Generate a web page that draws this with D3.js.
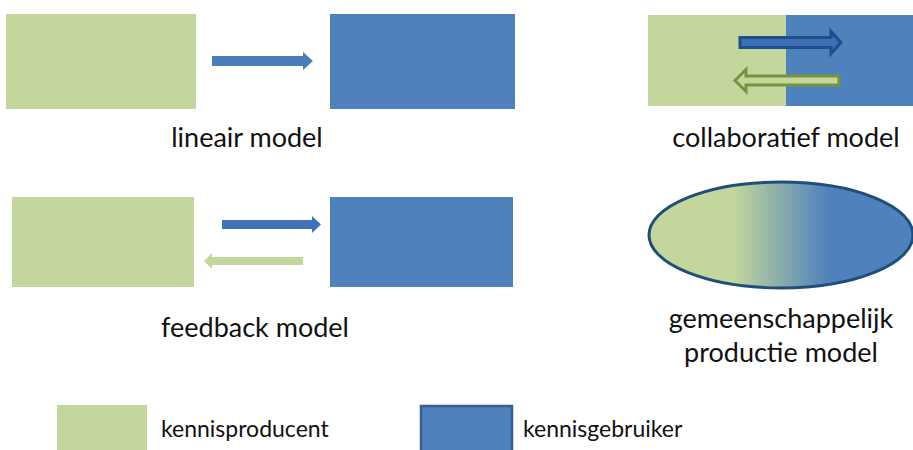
<!DOCTYPE html>
<html><head><meta charset="utf-8">
<script src="https://cdn.jsdelivr.net/npm/d3@7"></script>
<style>body{margin:0;background:#fff}svg{display:block}text{font-family:Lato,"Open Sans",sans-serif;fill:#111}</style>
</head><body>
<svg id="c" width="913" height="450"></svg>
<script>
// diagram content
const models = ["lineair model", "collaboratief model", "feedback model", "gemeenschappelijk productie model"];
const modelLabelLines = [["lineair model"], ["collaboratief model"], ["feedback model"], ["gemeenschappelijk", "productie model"]];
const roles = ["kennisproducent", "kennisgebruiker"];
const roleColors = ["#c3d69b", "#4f81bd"];

const svg = d3.select("#c");
const defs = svg.append("defs");
const grad = defs.append("linearGradient").attr("id","g").attr("x1","0").attr("x2","1").attr("y1","0").attr("y2","0");
[[0,"#c3d69b"],[0.32,"#c3d69b"],[0.68,"#4f81bd"],[1,"#4f81bd"]].forEach(s=>grad.append("stop").attr("offset",s[0]).attr("stop-color",s[1]));

const color = d3.scaleOrdinal().domain(roles).range(roleColors);

// arrow path helper: from x0 to x1 (tip), center y, shaft half height h, head half height H, head length L
function arrow(x0, x1, y, h, H, L){
  const d = x1 > x0 ? 1 : -1;
  const xb = x1 - d*L;
  return `M${x0},${y-h}L${xb},${y-h}L${xb},${y-H}L${x1},${y}L${xb},${y+H}L${xb},${y+h}L${x0},${y+h}Z`;
}

// lineair model
svg.append("rect").attr("x",6).attr("y",14).attr("width",190).attr("height",95).attr("fill",color(roles[0]));
svg.append("rect").attr("x",330).attr("y",14).attr("width",185).attr("height",95).attr("fill",color(roles[1]));
svg.append("path").attr("d",arrow(212,313,61,5,9,10)).attr("fill","#4a7ebb");

// collaboratief model
svg.append("rect").attr("x",648).attr("y",15).attr("width",138).attr("height",91).attr("fill",color(roles[0]));
svg.append("rect").attr("x",786).attr("y",15).attr("width",127).attr("height",91).attr("fill",color(roles[1]));
svg.append("path").attr("d",arrow(740,841,42.5,5,11,10)).attr("fill","#3f6fb5").attr("stroke","#1f4e8c").attr("stroke-width",3).attr("stroke-linejoin","miter");
svg.append("path").attr("d",arrow(839,735,80.5,4.5,11,11)).attr("fill","#c3d69b").attr("stroke","#77933c").attr("stroke-width",3);

// feedback model
svg.append("rect").attr("x",12).attr("y",197).attr("width",182).attr("height",90).attr("fill",color(roles[0]));
svg.append("rect").attr("x",330).attr("y",197).attr("width",183).attr("height",90).attr("fill",color(roles[1]));
svg.append("path").attr("d",arrow(222,321,224.5,4.5,8.5,9)).attr("fill","#3f72b8");
svg.append("path").attr("d",arrow(303,204,261,4,8,8)).attr("fill","#c3d69b");

// gemeenschappelijk productie model
svg.append("ellipse").attr("cx",781).attr("cy",235).attr("rx",132).attr("ry",53).attr("fill","url(#g)").attr("stroke","#1f4e79").attr("stroke-width",3);

// labels
const labelPos = [[247,147],[786,147],[255,337],[781,328]];
modelLabelLines.forEach((lines,i)=>{
  const t = svg.append("text").attr("text-anchor","middle").attr("x",labelPos[i][0]).attr("y",labelPos[i][1]).style("font-size","27px");
  lines.forEach((l,j)=>t.append("tspan").attr("x",labelPos[i][0]).attr("dy", j===0?0:34).text(l));
});

// legend
const legX = [57, 420];
const lg = svg.selectAll("g.leg").data(roles).join("g").attr("class","leg");
lg.append("rect").attr("x",(d,i)=>legX[i]+(i?1:0)).attr("y",(d,i)=>i?406:405).attr("width",(d,i)=>i?91:90).attr("height",50)
  .attr("fill",d=>color(d)).attr("stroke",(d,i)=>i?"#385d8a":"none").attr("stroke-width",2.5);
lg.append("text").attr("x",(d,i)=>legX[i]+(i?103:104)).attr("y",437).style("font-size","23px").text(d=>d);
</script>
</body></html>
